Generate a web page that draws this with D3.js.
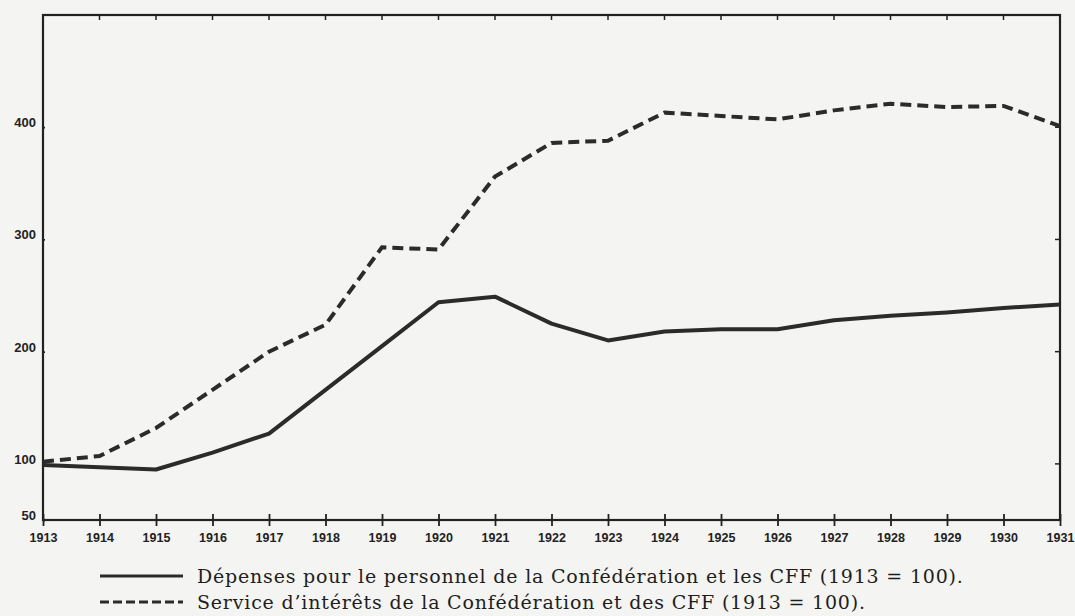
<!DOCTYPE html>
<html>
<head>
<meta charset="utf-8">
<script src="https://cdn.jsdelivr.net/npm/d3@7"></script>
<style>
  body { margin: 0; background: #f4f4f2; }
  svg { display: block; }
  .tick-label { font-family: "Liberation Sans", Arial, sans-serif; font-weight: bold; fill: #222; }
  .legend-text { font-family: "DejaVu Serif", serif; fill: #1e1e1e; }
</style>
</head>
<body>
<svg width="1075" height="616"></svg>
<script>
var svg = d3.select("svg"),
    width = +svg.attr("width"),
    height = +svg.attr("height");

// années
var years = [1913, 1914, 1915, 1916, 1917, 1918, 1919, 1920, 1921, 1922,
             1923, 1924, 1925, 1926, 1927, 1928, 1929, 1930, 1931];

// Dépenses pour le personnel (1913 = 100)
var personnel = [99, 97, 95, 110, 127, 166, 205, 244, 249, 225,
                 210, 218, 220, 220, 228, 232, 235, 239, 242];

// Service d'intérêts (1913 = 100)
var interets = [102, 107, 132, 166, 200, 224, 293, 291, 356, 386,
                388, 413, 410, 407, 415, 421, 418, 419, 401];

var yTicks = [50, 100, 200, 300, 400];

var legendLabels = [
    "Dépenses pour le personnel de la Confédération et les CFF (1913 = 100).",
    "Service d’intérêts de la Confédération et des CFF (1913 = 100)."
];

var x = d3.scaleLinear().domain([1913, 1931]).range([43, 1060]);
var y = d3.scaleLinear().domain([50, 500]).range([520, 15]);

var ink = "#222";

// cadre
svg.append("rect")
    .attr("x", x(1913))
    .attr("y", y(500))
    .attr("width", x(1931) - x(1913))
    .attr("height", y(50) - y(500))
    .attr("fill", "none")
    .attr("stroke", ink)
    .attr("stroke-width", 2.2);

// axe x (traits qui traversent la ligne)
var xAxis = svg.append("g")
    .attr("transform", "translate(0," + y(50) + ")")
    .call(d3.axisBottom(x).tickValues(years).tickFormat(d3.format("d")).tickSize(6).tickSizeOuter(0));
xAxis.select(".domain").remove();
xAxis.selectAll(".tick line").attr("y1", -6).attr("stroke", ink).attr("stroke-width", 1.8);
xAxis.selectAll(".tick text")
    .attr("class", "tick-label")
    .attr("y", 13)
    .attr("dy", "0.71em")
    .style("font-size", "12.5px");

// petits traits en haut
svg.append("g")
    .selectAll("line")
    .data(years.slice(1, -1))
    .enter().append("line")
    .attr("x1", function(d) { return x(d); })
    .attr("x2", function(d) { return x(d); })
    .attr("y1", y(500))
    .attr("y2", y(500) + 5)
    .attr("stroke", ink)
    .attr("stroke-width", 1.5);

// axe y gauche
var yAxis = svg.append("g")
    .attr("transform", "translate(" + x(1913) + ",0)")
    .call(d3.axisLeft(y).tickValues(yTicks).tickSize(5).tickSizeOuter(0));
yAxis.select(".domain").remove();
yAxis.selectAll(".tick line").attr("x2", 2).attr("stroke", ink).attr("stroke-width", 1.8);
yAxis.selectAll(".tick text")
    .attr("class", "tick-label")
    .attr("x", -7)
    .attr("dy", "-0.05em")
    .style("font-size", "13px");

// traits intérieurs à droite
svg.append("g")
    .selectAll("line")
    .data(yTicks.slice(1))
    .enter().append("line")
    .attr("x1", x(1931) - 5)
    .attr("x2", x(1931))
    .attr("y1", function(d) { return y(d); })
    .attr("y2", function(d) { return y(d); })
    .attr("stroke", ink)
    .attr("stroke-width", 1.5);

var line = d3.line()
    .x(function(d, i) { return x(years[i]); })
    .y(function(d) { return y(d); });

svg.append("path")
    .datum(personnel)
    .attr("fill", "none")
    .attr("stroke", "#2b2b2b")
    .attr("stroke-width", 4)
    .attr("stroke-linejoin", "round")
    .attr("d", line);

svg.append("path")
    .datum(interets)
    .attr("fill", "none")
    .attr("stroke", "#2b2b2b")
    .attr("stroke-width", 4)
    .attr("stroke-dasharray", "11,6")
    .attr("d", line);

// légende
var legend = svg.append("g").selectAll("g")
    .data(legendLabels)
    .enter().append("g")
    .attr("transform", function(d, i) { return "translate(100," + (576 + i * 26) + ")"; });

legend.append("line")
    .attr("x1", 0)
    .attr("x2", 83)
    .attr("stroke", "#2b2b2b")
    .attr("stroke-width", 3)
    .attr("stroke-dasharray", function(d, i) { return i === 0 ? null : "9,4"; });

legend.append("text")
    .attr("class", "legend-text")
    .attr("x", 97)
    .attr("dy", "0.35em")
    .style("font-size", "19px")
    .style("letter-spacing", "0.8px")
    .text(function(d) { return d; });
</script>
</body>
</html>
